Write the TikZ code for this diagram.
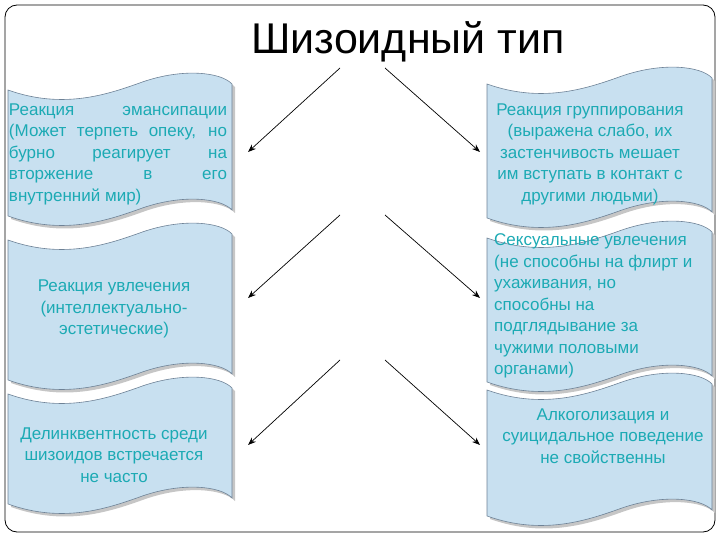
\documentclass[tikz,border=0pt]{standalone}
\usepackage{fontspec}
\usetikzlibrary{arrows.meta}
\setmainfont{Liberation Sans}
\definecolor{boxfill}{RGB}{200,224,240}
\definecolor{boxline}{RGB}{110,130,150}
\definecolor{txt}{RGB}{28,170,180}
\tikzset{shadowst/.style={fill=gray!45,draw=none},
  boxst/.style={fill=boxfill,draw=boxline,line width=0.6pt},
  lbl/.style={font=\fontsize{17pt}{21.5pt}\selectfont,text=txt,inner sep=0pt},
  arr/.style={-{Stealth[length=8pt,width=6pt]},line width=0.7pt}}
\newcommand{\wavepath}[2]{(0,16) .. controls (0.25*#1,36) and (0.45*#1,20) .. (0.6*#1,8)
     .. controls (0.78*#1,-6) and (0.95*#1,-2) .. (#1,10)
     -- (#1,#2-6)
     .. controls (0.95*#1,#2-18) and (0.78*#1,#2-22) .. (0.6*#1,#2-8)
     .. controls (0.45*#1,#2+4) and (0.25*#1,#2+20) .. (0,#2) -- cycle}
\newcommand{\wavebox}[4]{% x y w h
  \path[shadowst,shift={(#1+3,#2+3)}] \wavepath{#3}{#4};
  \path[boxst,shift={(#1,#2)}] \wavepath{#3}{#4};}
\begin{document}
\begin{tikzpicture}[x=1pt,y=-1pt]
\useasboundingbox (0,0) rectangle (720,540);
\draw[line width=0.8pt,rounded corners=12pt] (5,5) rectangle (715,532);
\node[font=\fontsize{43pt}{46pt}\selectfont] (title) at (408,42) {Шизоидный тип};
\wavebox{8}{74}{224}{142}
\wavebox{8}{224}{224}{156}
\wavebox{8}{378}{224}{126}
\wavebox{487}{68}{225}{150}
\wavebox{487}{222}{225}{160}
\wavebox{487}{374}{225}{142}
\node[lbl,text width=218pt,align=justify] (l1) at (118,154) {Реакция эмансипации\linebreak (Может терпеть опеку, но\linebreak бурно реагирует на\linebreak вторжение в его\linebreak внутренний мир)};
\node[lbl,align=center] (l2) at (114,309) {Реакция увлечения\\(интеллектуально-\\эстетические)};
\node[lbl,align=center] (l3) at (114,455) {Делинквентность среди\\шизоидов встречается\\не часто};
\node[lbl,align=center] (r1) at (590,154) {Реакция группирования\\(выражена слабо, их\\застенчивость мешает\\им вступать в контакт с\\другими людьми)};
\node[lbl,align=left,anchor=west] (r2) at (494,306) {Сексуальные увлечения\\(не способны на флирт и\\ухаживания, но\\способны на\\подглядывание за\\чужими половыми\\органами)};
\node[lbl,align=center] (r3) at (603,436) {Алкоголизация и\\суицидальное поведение\\не свойственны};
\coordinate (s1) at (340,68); \coordinate (t1) at (248,152);
\coordinate (s2) at (385,68); \coordinate (t2) at (480,152);
\coordinate (s3) at (340,215); \coordinate (t3) at (248,298);
\coordinate (s4) at (385,215); \coordinate (t4) at (480,298);
\coordinate (s5) at (340,360); \coordinate (t5) at (248,445);
\coordinate (s6) at (385,360); \coordinate (t6) at (480,445);
\foreach \i in {1,...,6} \draw[arr] (s\i) -- (t\i);
\end{tikzpicture}
\end{document}
